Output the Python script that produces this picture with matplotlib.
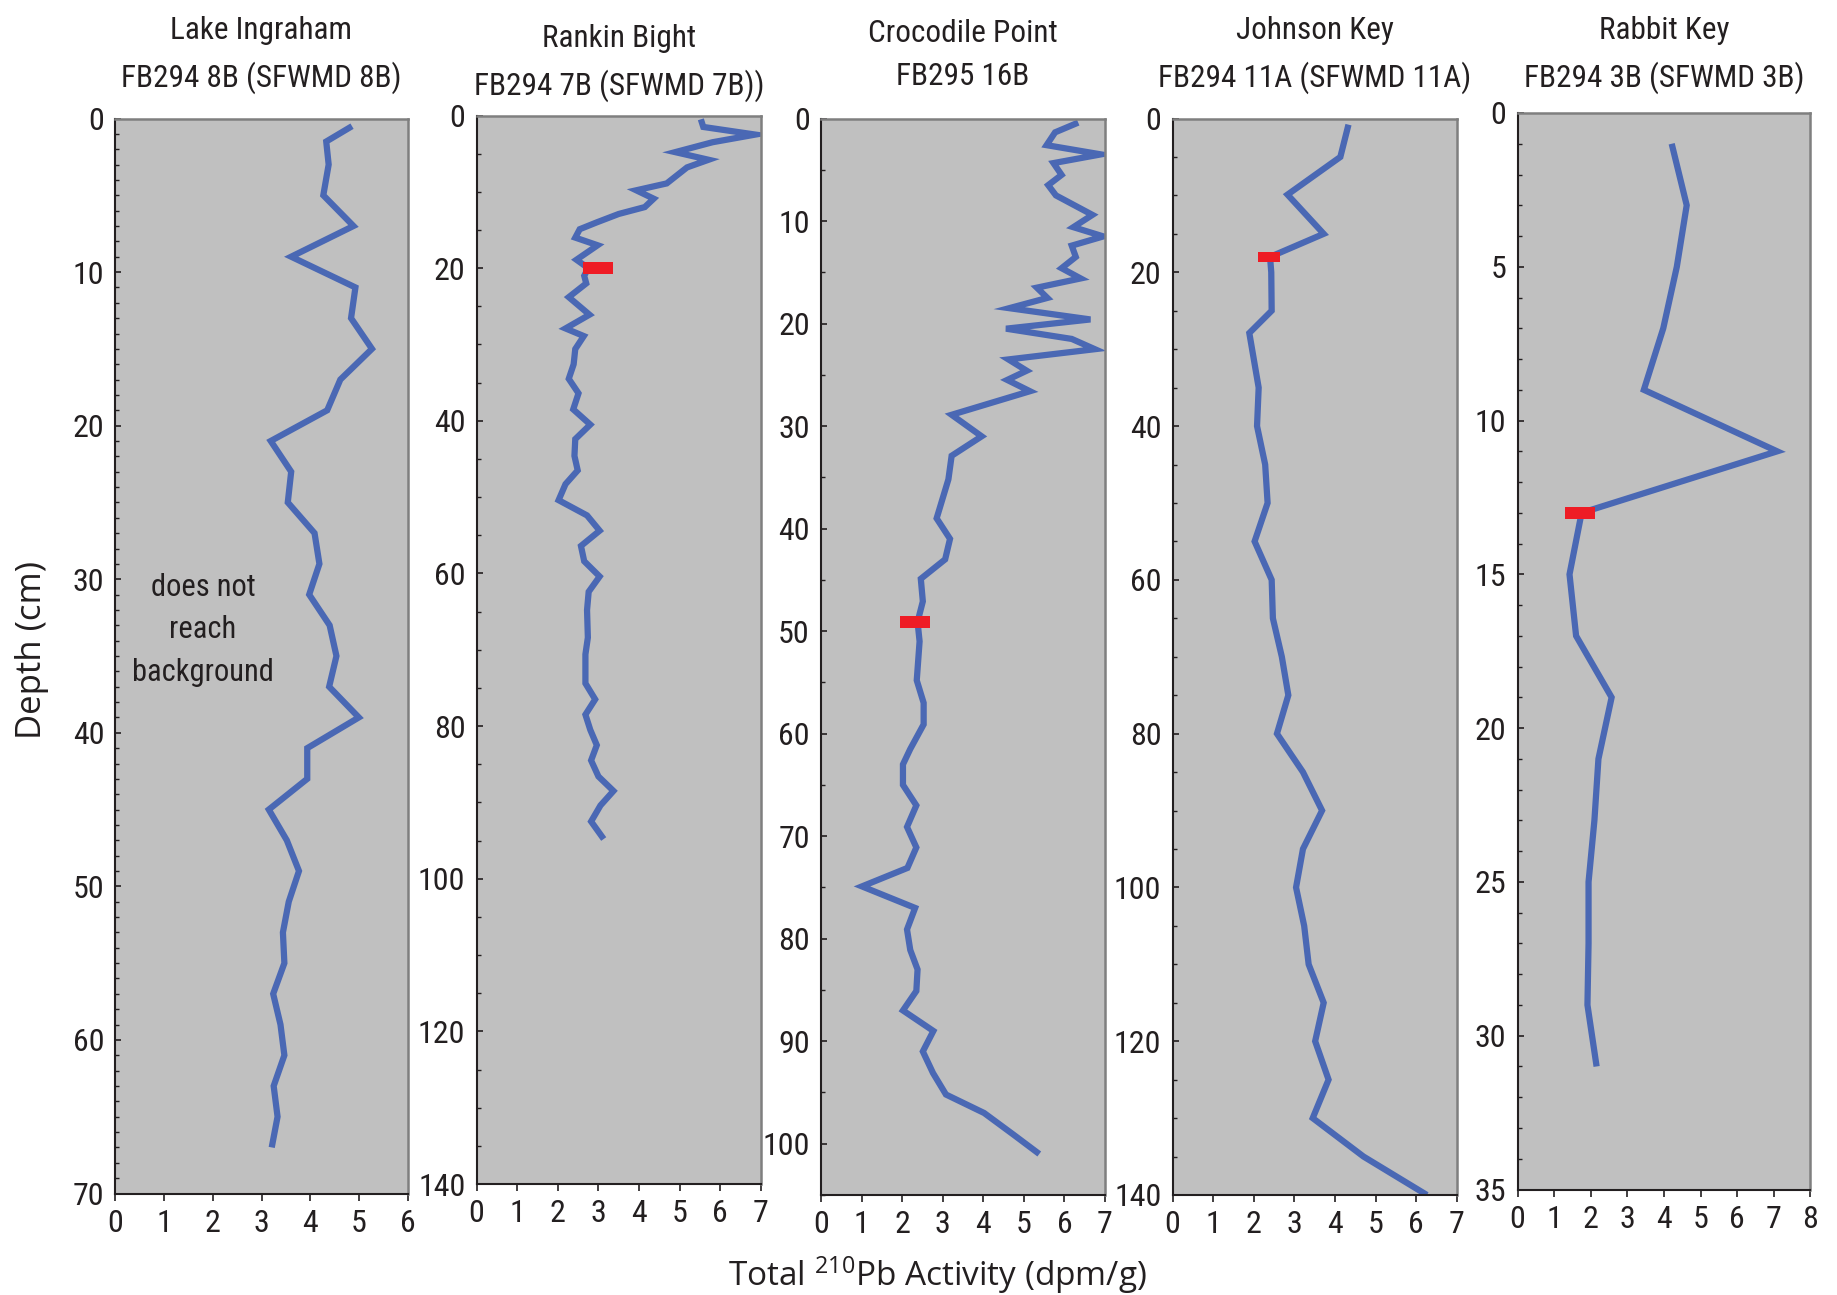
import matplotlib.pyplot as plt
from matplotlib.ticker import MultipleLocator

plt.rcParams['font.family'] = ['Roboto Condensed', 'Archivo Narrow', 'Liberation Sans', 'DejaVu Sans']

# Total 210Pb activity (dpm/g) against depth (cm) for each core
ingraham_depth = [0.5, 1.5, 3, 5, 7, 9, 11, 13, 15, 17, 19, 21, 23, 25, 27, 29, 31, 33,
                  35, 37, 39, 41, 43, 45, 47, 49, 51, 53, 55, 57, 59, 61, 63, 65, 67]
ingraham_pb = [4.86, 4.33, 4.38, 4.27, 4.89, 3.61, 4.93, 4.84, 5.27, 4.62, 4.35, 3.19,
               3.61, 3.54, 4.09, 4.19, 3.98, 4.40, 4.54, 4.39, 5.00, 3.94, 3.94, 3.15,
               3.52, 3.77, 3.56, 3.44, 3.47, 3.24, 3.39, 3.47, 3.25, 3.33, 3.21]

rankin_depth = [0.5, 1.5, 2.5, 3.5, 4.8, 5.8, 6.8, 8.9, 9.8, 10.9, 12.0, 12.9, 14.0, 14.9,
                16.0, 17.0, 18.9, 20.0, 21.0, 22.0, 23.8, 26.1, 27.9, 28.9, 30.6, 32.6,
                34.5, 36.4, 38.5, 40.5, 42.4, 44.6, 46.5, 48.3, 50.4, 52.4, 54.4, 56.4,
                58.4, 60.4, 62.4, 64.8, 68.4, 70.6, 74.4, 76.5, 78.5, 80.5, 82.5, 84.5,
                86.6, 88.5, 90.4, 92.5, 94.8]
rankin_pb = [5.52, 5.58, 6.86, 5.81, 4.89, 5.71, 5.18, 4.68, 3.93, 4.36, 4.14, 3.50, 2.96,
             2.54, 2.43, 2.98, 2.46, 2.75, 2.65, 2.70, 2.27, 2.78, 2.19, 2.64, 2.43, 2.39,
             2.27, 2.51, 2.38, 2.80, 2.43, 2.41, 2.49, 2.19, 2.02, 2.72, 3.03, 2.57, 2.65,
             3.03, 2.76, 2.72, 2.74, 2.68, 2.68, 2.92, 2.68, 2.80, 2.96, 2.82, 3.00, 3.37,
             3.05, 2.82, 3.13]

croc_depth = [0.4, 1.35, 2.6, 3.5, 4.35, 5.5, 6.5, 7.5, 9.4, 10.6, 11.5, 12.4, 13.5, 14.6,
              15.6, 16.5, 17.5, 18.5, 19.6, 20.5, 21.5, 22.5, 23.5, 24.6, 25.5, 26.6, 28.9,
              31.0, 32.9, 35.2, 39.0, 41.0, 43.0, 44.9, 47.1, 49.1, 51.0, 54.8, 57.0, 59.1,
              61.5, 63.0, 65.0, 67.0, 69.1, 71.1, 73.1, 74.9, 77.0, 79.1, 81.1, 83.0, 85.1,
              87.0, 89.0, 91.0, 93.1, 95.2, 97.0, 99.1, 101.0]
croc_pb = [6.34, 5.77, 5.56, 6.90, 5.73, 5.93, 5.60, 5.79, 6.69, 6.22, 6.96, 6.18, 6.28,
           5.93, 6.40, 5.32, 5.58, 4.64, 6.64, 4.56, 6.18, 6.75, 4.62, 5.07, 4.59, 5.15,
           3.22, 3.96, 3.22, 3.14, 2.85, 3.18, 3.06, 2.46, 2.51, 2.38, 2.43, 2.36, 2.53,
           2.53, 2.20, 2.02, 2.02, 2.35, 2.12, 2.35, 2.13, 1.01, 2.32, 2.12, 2.20, 2.38,
           2.35, 2.02, 2.77, 2.51, 2.76, 3.08, 4.02, 4.74, 5.38]

johnson_depth = [0.8, 5, 9.9, 15, 18, 20, 25, 27.9, 35, 40, 45, 50, 55, 60, 65, 70, 75,
                 80, 85, 90, 95, 100, 105, 110, 115, 120, 125, 130, 135, 140]
johnson_pb = [4.33, 4.13, 2.83, 3.72, 2.40, 2.43, 2.44, 1.89, 2.12, 2.08, 2.28, 2.34, 2.02,
              2.44, 2.47, 2.69, 2.85, 2.57, 3.21, 3.68, 3.21, 3.04, 3.24, 3.35, 3.72, 3.51,
              3.84, 3.45, 4.70, 6.26]

rabbit_depth = [1, 3, 5, 7, 9, 11, 13, 15, 17, 19, 21, 23, 25, 27, 29, 31]
rabbit_pb = [4.21, 4.62, 4.35, 3.98, 3.45, 7.09, 1.75, 1.42, 1.60, 2.57, 2.21, 2.10, 1.94,
             1.94, 1.91, 2.16]

# depth where each profile reaches supported (background) activity
bg_pb = [None, 2.98, 2.31, 2.38, 1.72]
bg_depth = [None, 20.0, 49.1, 18.0, 13.0]

site_names = ['Lake Ingraham', 'Rankin Bight', 'Crocodile Point', 'Johnson Key', 'Rabbit Key']
core_ids = ['FB294 8B (SFWMD 8B)', 'FB294 7B (SFWMD 7B))', 'FB295 16B',
            'FB294 11A (SFWMD 11A)', 'FB294 3B (SFWMD 3B)']
x_max = [6, 7, 7, 7, 8]
depth_max = [70, 140, 105, 140, 35]
depth_major = [10, 20, 10, 20, 5]
depth_minor = [1, 5, 5, 5, 1]

depths = [ingraham_depth, rankin_depth, croc_depth, johnson_depth, rabbit_depth]
activities = [ingraham_pb, rankin_pb, croc_pb, johnson_pb, rabbit_pb]

# panel boxes in pixels: left, top, right, bottom
boxes = [(115.5, 118.5, 407.5, 1193.5),
         (476.5, 115.5, 761.0, 1184.0),
         (821.0, 118.5, 1105.0, 1195.0),
         (1172.5, 118.5, 1457.0, 1195.0),
         (1517.5, 113.0, 1810.5, 1189.5)]
title_y = [55, 63, 55, 55, 55]

W, H = 1837, 1295
BLUE = '#4A68B4'
RED = '#EE1C25'
BAR = [(-1, -0.43), (1, -0.43), (1, 0.43), (-1, 0.43), (-1, -0.43)]
bar_size = [21, 21, 21, 16.5, 21]

fig = plt.figure(figsize=(W / 100, H / 100), dpi=100)

for i in range(5):
    l, t, r, b = boxes[i]
    ax = fig.add_axes([l / W, 1 - b / H, (r - l) / W, (b - t) / H])
    ax.set_facecolor('#C0C0C0')
    ax.plot(activities[i], depths[i], color=BLUE, lw=4.5,
            solid_joinstyle='miter', solid_capstyle='butt', zorder=2)
    if bg_pb[i] is not None:
        ax.plot([bg_pb[i]], [bg_depth[i]], ls='none', marker=BAR, ms=bar_size[i],
                color=RED, mec=RED, mew=0, zorder=3)

    ax.set_xlim(0, x_max[i])
    ax.set_ylim(depth_max[i], 0)
    ax.xaxis.set_major_locator(MultipleLocator(1))
    ax.yaxis.set_major_locator(MultipleLocator(depth_major[i]))
    ax.yaxis.set_minor_locator(MultipleLocator(depth_minor[i]))
    ax.tick_params(axis='x', direction='out', length=5, width=1.2, pad=6,
                   labelsize=23, colors='#231F20')
    ax.tick_params(axis='y', which='major', direction='in', length=4.5, width=1.2,
                   pad=8, labelsize=23, colors='#231F20')
    ax.tick_params(axis='y', which='minor', direction='in', length=3, width=1,
                   colors='#231F20')
    for side in ['left', 'bottom']:
        ax.spines[side].set_color('#231F20')
        ax.spines[side].set_linewidth(1.5)
    for side in ['top', 'right']:
        ax.spines[side].set_color('#7F7F7F')
        ax.spines[side].set_linewidth(1.8)

    fig.text((l + r) / 2 / W, 1 - title_y[i] / H, site_names[i] + '\n' + core_ids[i],
             ha='center', va='center', fontsize=22.5, linespacing=1.62, color='#231F20')

    if i == 0:
        ax.text(1.8, 33.3, 'does not\nreach\nbackground', ha='center', va='center',
                fontsize=22, linespacing=1.6, color='#231F20')

fig.text(31.6 / W, 1 - 650 / H, 'Depth (cm)', rotation=90, ha='center', va='center',
         fontsize=25, family=['Open Sans', 'DejaVu Sans'], color='#231F20')
fig.text(937 / W, 1 - 1275 / H, r'Total $\mathregular{^{210}}$Pb Activity (dpm/g)',
         ha='center', va='center', fontsize=24, family=['Open Sans', 'DejaVu Sans'],
         color='#231F20')

fig.savefig('out.png', dpi=100, facecolor='white')
